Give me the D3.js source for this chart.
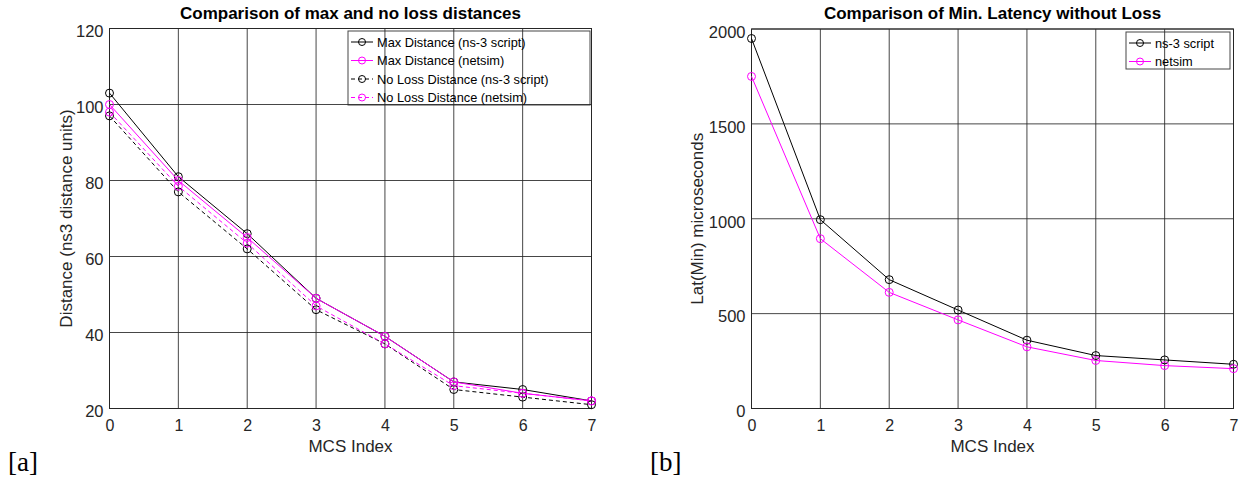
<!DOCTYPE html>
<html>
<head>
<meta charset="utf-8">
<script src="https://cdn.jsdelivr.net/npm/d3@7"></script>
<style>
  body { margin: 0; background: #fff; }
  text { font-family: "Liberation Sans", Arial, sans-serif; fill: #262626; }
</style>
</head>
<body>
<svg id="chart" width="1244" height="483"></svg>
<script>
// MCS index (shared x axis)
var mcs = [0, 1, 2, 3, 4, 5, 6, 7];

// left panel: distances
var maxDistNs3 = [103, 81, 66, 49, 39, 27, 25, 22];
var maxDistNetsim = [100, 80, 65, 49, 39, 27, 24, 22];
var noLossNs3 = [97, 77, 62, 46, 37, 25, 23, 21];
var noLossNetsim = [98, 78.5, 63.5, 47, 37, 26, 24, 22];
var distTicks = [20, 40, 60, 80, 100, 120];

// right panel: min latency
var latNs3 = [1950, 995, 679, 519, 360, 279, 256, 233];
var latNetsim = [1750, 895, 612, 467, 325, 253, 226, 210];
var latTicks = [0, 500, 1000, 1500, 2000];

var svg = d3.select("#chart");

function drawPanel(opt) {
  var g = svg.append("g");
  var x = d3.scaleLinear().domain([0, 7]).range([opt.left, opt.right]),
      y = d3.scaleLinear().domain(opt.yDomain).range([opt.bottom, opt.top]);

  // grid
  g.selectAll(".gx").data(mcs).enter().append("line")
      .attr("x1", function(d) { return x(d); }).attr("x2", function(d) { return x(d); })
      .attr("y1", opt.top).attr("y2", opt.bottom)
      .attr("stroke", "#262626").attr("stroke-opacity", 0.85);
  g.selectAll(".gy").data(opt.yTicks).enter().append("line")
      .attr("x1", opt.left).attr("x2", opt.right)
      .attr("y1", function(d) { return y(d); }).attr("y2", function(d) { return y(d); })
      .attr("stroke", "#262626").attr("stroke-opacity", 0.85);

  // axes
  g.append("g")
      .attr("transform", "translate(0," + opt.bottom + ")")
      .call(d3.axisBottom(x).tickValues(mcs).tickSize(0).tickPadding(11).tickFormat(d3.format("d")))
      .call(function(a) { a.select(".domain").remove(); })
      .selectAll("text").style("font-size", "16px").attr("fill", "#262626");
  g.append("g")
      .attr("transform", "translate(" + opt.left + ",0)")
      .call(d3.axisLeft(y).tickValues(opt.yTicks).tickSize(0).tickPadding(6).tickFormat(d3.format("d")))
      .call(function(a) { a.select(".domain").remove(); })
      .selectAll("text").style("font-size", "16.5px").attr("dy", "0.5em").attr("fill", "#262626");

  g.append("rect")
      .attr("x", opt.left).attr("y", opt.top)
      .attr("width", opt.right - opt.left).attr("height", opt.bottom - opt.top)
      .attr("fill", "none").attr("stroke", "#262626");

  // series
  var line = d3.line()
      .x(function(d, i) { return x(mcs[i]); })
      .y(function(d) { return y(d); });
  opt.series.forEach(function(s) {
    g.append("path").datum(s.values)
        .attr("d", line).attr("fill", "none")
        .attr("stroke", s.color).attr("stroke-width", 1)
        .attr("stroke-dasharray", s.dash ? "4,3" : null);
    g.selectAll(null).data(s.values).enter().append("circle")
        .attr("cx", function(d, i) { return x(mcs[i]); })
        .attr("cy", function(d) { return y(d); })
        .attr("r", 4).attr("fill", "none")
        .attr("stroke", s.color).attr("stroke-width", 1);
  });

  // titles
  g.append("text")
      .attr("x", (opt.left + opt.right) / 2).attr("y", 19)
      .attr("text-anchor", "middle").style("font-size", "17px").style("font-weight", "bold")
      .style("fill", "#000").text(opt.title);
  g.append("text")
      .attr("x", (opt.left + opt.right) / 2).attr("y", 452)
      .attr("text-anchor", "middle").style("font-size", "17px")
      .text("MCS Index");
  g.append("text")
      .attr("transform", "translate(" + opt.yLabelX + "," + (opt.top + opt.bottom) / 2 + ") rotate(-90)")
      .attr("text-anchor", "middle").style("font-size", "17px")
      .text(opt.yLabel);

  // legend
  var lg = g.append("g");
  lg.append("rect")
      .attr("x", opt.legend.x).attr("y", opt.legend.y)
      .attr("width", opt.legend.w).attr("height", opt.series.length * 18.5)
      .attr("fill", "none")
      .attr("stroke", "#262626").attr("stroke-opacity", 0.85);
  opt.series.forEach(function(s, i) {
    var ly = opt.legend.y + 11 + i * 18.5,
        lx = opt.legend.x + 3;
    lg.append("line")
        .attr("x1", lx).attr("x2", lx + 22).attr("y1", ly).attr("y2", ly)
        .attr("stroke", s.color).attr("stroke-dasharray", s.dash ? "4,3" : null);
    lg.append("circle").attr("cx", lx + 11).attr("cy", ly).attr("r", 3.5)
        .attr("fill", "none").attr("stroke", s.color);
    lg.append("text").attr("x", lx + 26).attr("y", ly + 4.5)
        .style("font-size", "12.8px").style("fill", "#000").text(s.name);
  });
}

drawPanel({
  left: 109.5, right: 591.5, top: 28.5, bottom: 408.5,
  yDomain: [20, 120], yTicks: distTicks,
  title: "Comparison of max and no loss distances",
  yLabel: "Distance (ns3 distance units)", yLabelX: 72,
  legend: { x: 348, y: 31, w: 242 },
  series: [
    { name: "Max Distance (ns-3 script)", values: maxDistNs3, color: "#000", dash: false },
    { name: "Max Distance (netsim)", values: maxDistNetsim, color: "#ff00ff", dash: false },
    { name: "No Loss Distance (ns-3 script)", values: noLossNs3, color: "#000", dash: true },
    { name: "No Loss Distance (netsim)", values: noLossNetsim, color: "#ff00ff", dash: true }
  ]
});

drawPanel({
  left: 751.5, right: 1233.5, top: 29, bottom: 408.5,
  yDomain: [0, 2000], yTicks: latTicks,
  title: "Comparison of Min. Latency without Loss",
  yLabel: "Lat(Min) microseconds", yLabelX: 703,
  legend: { x: 1126, y: 32, w: 104 },
  series: [
    { name: "ns-3 script", values: latNs3, color: "#000", dash: false },
    { name: "netsim", values: latNetsim, color: "#ff00ff", dash: false }
  ]
});

// panel tags
svg.append("text").attr("x", 8).attr("y", 471)
    .style("font-family", "'Liberation Serif', serif").style("font-size", "27px")
    .style("fill", "#000").text("[a]");
svg.append("text").attr("x", 650).attr("y", 471)
    .style("font-family", "'Liberation Serif', serif").style("font-size", "27px")
    .style("fill", "#000").text("[b]");
</script>
</body>
</html>
